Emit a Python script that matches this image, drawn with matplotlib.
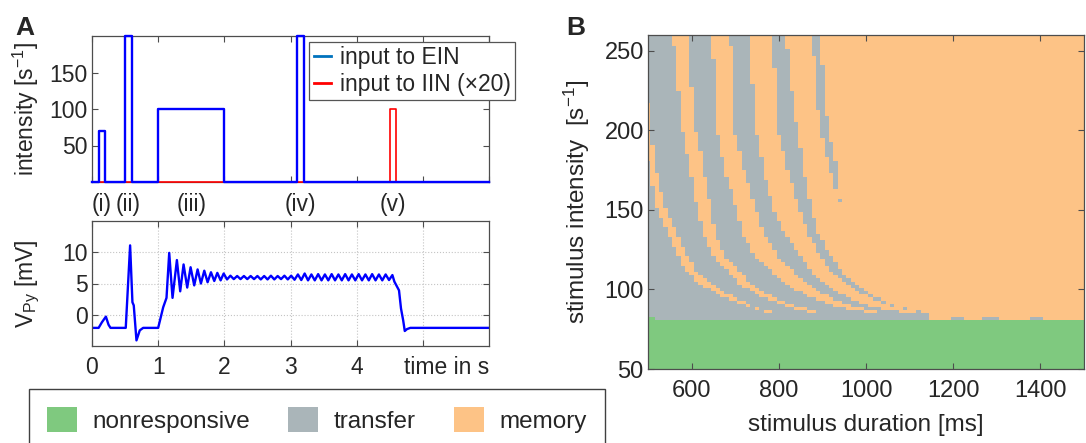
import matplotlib

matplotlib.use("Agg")

import matplotlib.pyplot as plt
import numpy as np
from matplotlib.colors import ListedColormap
from matplotlib.lines import Line2D
from matplotlib.patches import Patch
from matplotlib.transforms import blended_transform_factory

plt.rcParams["font.family"] = ["Liberation Sans", "DejaVu Sans"]
plt.rcParams["mathtext.default"] = "regular"

TEXT = "#262626"
EDGE = "#4d4d4d"
GREEN = "#7FC97F"
GRAY = "#AAB5B9"
ORANGE = "#FDC386"

# panel A, top: stimulus pulses
ein_start = [0.1, 0.5, 1.0, 3.1]
ein_end = [0.2, 0.6, 2.0, 3.2]
ein_height = [70, 200, 100, 200]
iin_start = [4.5]
iin_end = [4.6]
iin_height = [100]  # already scaled x20
pulse_names = ["(i)", "(ii)", "(iii)", "(iv)", "(v)"]

# panel A, bottom: pyramidal membrane potential
v_time = [
    0.00, 0.10, 0.15, 0.21, 0.25, 0.28, 0.51, 0.576, 0.611, 0.631, 0.672, 0.722, 0.773, 1.00,
    1.076, 1.126, 1.167, 1.217, 1.283, 1.333, 1.384, 1.439, 1.490, 1.545, 1.596, 1.646,
    1.697, 1.747, 1.798, 1.848, 1.894, 1.944, 1.990,
    2.041, 2.092, 2.143, 2.194, 2.245, 2.296, 2.347, 2.398, 2.449, 2.500,
    2.551, 2.602, 2.653, 2.704, 2.755, 2.806, 2.857, 2.908, 2.959, 3.010,
    3.061, 3.112, 3.163, 3.214, 3.265, 3.316, 3.367, 3.418, 3.469, 3.520,
    3.571, 3.622, 3.673, 3.724, 3.775, 3.826, 3.877, 3.928, 3.979, 4.030,
    4.081, 4.132, 4.183, 4.234, 4.285, 4.336, 4.387, 4.438, 4.489, 4.540,
    4.570, 4.600, 4.640, 4.670, 4.703, 4.727, 4.760, 4.810, 6.00,
]
v_mv = [
    -2.1, -2.1, -1.2, -0.3, -1.6, -2.1, -2.1, 11.1, 2.0, 1.5, -4.1, -2.5, -2.1, -2.1,
    1.2, 2.7, 9.9, 2.7, 8.75, 3.75, 8.05, 4.35, 7.6, 4.7, 7.25, 5.0,
    7.05, 5.2, 6.8, 5.4, 6.7, 5.5, 6.6,
    5.65, 6.25, 5.7, 6.2, 5.7, 6.2, 5.7, 6.2, 5.7, 6.2,
    5.65, 6.2, 5.65, 6.25, 5.65, 6.2, 5.7, 6.25, 5.65, 6.25,
    5.6, 6.45, 5.55, 6.6, 5.5, 6.45, 5.5, 6.5, 5.5, 6.45,
    5.5, 6.5, 5.5, 6.45, 5.5, 6.5, 5.5, 6.45, 5.5, 6.5,
    5.5, 6.45, 5.5, 6.5, 5.5, 6.45, 5.5, 6.45, 5.55, 6.35,
    5.3, 4.7, 3.9, 1.0, -0.9, -2.6, -2.3, -2.1, -2.1,
]

# panel B: phase diagram, band edges (duration in ms at each intensity knot)
intensity_knots = [84, 86, 88, 90, 93, 97, 103, 110, 120, 135, 153, 175, 200, 230, 260]
memory0_left = [800, 770, 745, 722, 698, 660, 622, 593, 571, 548, 517, 504, 488, 470, 450]
memory0_right = [800, 790, 760, 740, 716, 682, 645, 613, 592, 567, 536, 518, 506, 496, 480]
memory1_left = [890, 865, 840, 815, 785, 750, 712, 690, 652, 626, 612, 597, 580, 568, 558]
memory1_right = [890, 885, 862, 840, 808, 775, 740, 716, 680, 655, 642, 628, 610, 599, 591]
memory2_left = [1040, 1000, 960, 928, 893, 858, 818, 790, 748, 717, 700, 676, 658, 652, 648]
memory2_right = [1040, 1030, 995, 965, 935, 905, 866, 838, 800, 765, 745, 720, 698, 694, 689]
memory3_left = [1100, 1075, 1035, 1005, 975, 945, 905, 880, 852, 815, 785, 765, 748, 740, 731]
memory3_right = [1150, 1120, 1085, 1058, 1025, 995, 960, 925, 897, 868, 845, 820, 798, 792, 785]
memory4_left = [1150, 1130, 1097, 1070, 1040, 1010, 985, 950, 922, 890, 872, 858, 843, 828, 817]
memory4_right = [940, 940, 940, 940, 940, 940, 940, 940, 940, 940, 940, 918, 895, 884, 877]
memory5_left = [940, 940, 940, 940, 940, 940, 940, 940, 940, 940, 940, 936, 914, 902, 897]

# gray "floor" just above the nonresponsive region: start, end (ms) and top intensity
floor_start = [500, 1195, 1270, 1380]
floor_end = [1140, 1225, 1305, 1400]
floor_top = [85, 83, 83, 83]
green_top = 81
green_bump = (500, 515, 83)
gray_spot_duration = [940]
gray_spot_intensity = [156]

legend_labels = ["nonresponsive", "transfer", "memory"]


def pulse_trace(starts, ends, heights, t_max=6.0):
    t, y = [0.0], [0.0]
    for s, e, h in zip(starts, ends, heights):
        t += [s, s, e, e]
        y += [0, h, h, 0]
    t.append(t_max)
    y.append(0)
    return t, y


def style_axes(ax, size):
    for spine in ax.spines.values():
        spine.set_color(EDGE)
        spine.set_linewidth(0.9)
    ax.tick_params(direction="in", length=4, width=0.8, color=EDGE,
                   labelcolor=TEXT, labelsize=size, top=True, right=True)


W, H = 1086, 443


def px_box(left, top, right, bottom):
    return [left / W, 1 - bottom / H, (right - left) / W, (bottom - top) / H]


fig = plt.figure(figsize=(W / 100, H / 100), dpi=100)

# ---- A, top: input intensity
ax_in = fig.add_axes(px_box(92, 36, 489, 182))
t_iin, y_iin = pulse_trace(iin_start, iin_end, iin_height)
t_ein, y_ein = pulse_trace(ein_start, ein_end, ein_height)
ax_in.plot(t_iin, y_iin, color="red", lw=1.2, clip_on=False, zorder=3)
ax_in.plot(t_ein, y_ein, color="blue", lw=1.7, clip_on=False, zorder=4)
ax_in.set_xlim(0, 6)
ax_in.set_ylim(0, 200)
ax_in.set_yticks([50, 100, 150])
ax_in.set_xticks(range(0, 7))
style_axes(ax_in, 16.5)
ax_in.tick_params(axis="x", labelbottom=False)
ax_in.tick_params(axis="y", pad=3)
ax_in.set_ylabel("intensity [s$^{-1}$]", fontsize=16.5, color=TEXT)
ax_in.yaxis.set_label_coords(-0.128, 0.5)

handles = [Line2D([], [], color="#0072BD", lw=2), Line2D([], [], color="red", lw=2)]
leg = ax_in.legend(handles, ["input to EIN", "input to IIN (×20)"],
                   loc="upper left", bbox_to_anchor=(309 / W, 1 - 41.7 / H),
                   bbox_transform=fig.transFigure, fontsize=16.5, frameon=True,
                   fancybox=False, framealpha=1, edgecolor="#555555",
                   handlelength=0.75, handletextpad=0.4, borderpad=0.2,
                   labelspacing=0.15, borderaxespad=0)
leg.get_frame().set_linewidth(0.9)
for txt in leg.get_texts():
    txt.set_color(TEXT)

label_tf = blended_transform_factory(ax_in.transData, fig.transFigure)
for name, s, e in zip(pulse_names, ein_start + iin_start, ein_end + iin_end):
    ax_in.text((s + e) / 2, 1 - 204 / H, name, transform=label_tf,
               ha="center", va="center", fontsize=16.5, color=TEXT)

# ---- A, bottom: membrane potential
ax_v = fig.add_axes(px_box(92, 221, 489, 346))
ax_v.plot(v_time, v_mv, color="blue", lw=1.7)
ax_v.set_xlim(0, 6)
ax_v.set_ylim(-5, 15)
ax_v.set_xticks(range(0, 6))
ax_v.set_xticklabels(["0", "1", "2", "3", "4", ""])
ax_v.set_yticks([0, 5, 10])
ax_v.grid(True, color="#c4c4c4", linestyle=":", linewidth=0.8)
style_axes(ax_v, 16.5)
ax_v.tick_params(axis="x", pad=7.5)
ax_v.tick_params(axis="y", pad=3)
ax_v.annotate("time in s", xy=(1, 0), xycoords="axes fraction", xytext=(0, -7.5),
              textcoords="offset points", ha="right", va="top", fontsize=16.5, color=TEXT)
ax_v.set_ylabel("V$_{Py}$ [mV]", fontsize=16.5, color=TEXT)
ax_v.yaxis.set_label_coords(-0.125, 0.5)

# ---- B: phase diagram
duration = np.arange(500, 1501, 10)
intensity = np.arange(50, 261, 2)
D, I = np.meshgrid(duration, intensity)
boundaries = [memory0_left, memory0_right, memory1_left, memory1_right,
              memory2_left, memory2_right, memory3_left, memory3_right,
              memory4_left, memory4_right, memory5_left]
crossings = np.zeros(D.shape, dtype=int)
for b in boundaries:
    edge = np.interp(intensity, intensity_knots, b)
    crossings += D >= edge[:, None]
state = np.where(crossings % 2 == 1, 2, 1)
for s, e, top in zip(floor_start, floor_end, floor_top):
    state[(D >= s) & (D <= e) & (I < top)] = 1
for d, i in zip(gray_spot_duration, gray_spot_intensity):
    state[(D == d) & (I == i)] = 1
state[I < green_top] = 0
state[(D >= green_bump[0]) & (D <= green_bump[1]) & (I < green_bump[2])] = 0

ax_map = fig.add_axes(px_box(648, 35, 1084, 369))
d_edges = np.append(duration - 5, duration[-1] + 5)
i_edges = np.append(intensity - 1, intensity[-1] + 1)
ax_map.pcolormesh(d_edges, i_edges, state, cmap=ListedColormap([GREEN, GRAY, ORANGE]),
                  vmin=-0.5, vmax=2.5, shading="flat", rasterized=True)
ax_map.set_xlim(500, 1500)
ax_map.set_ylim(50, 260)
ax_map.set_xticks([600, 800, 1000, 1200, 1400])
ax_map.set_yticks([50, 100, 150, 200, 250])
style_axes(ax_map, 17)
ax_map.tick_params(axis="x", pad=8)
ax_map.tick_params(axis="y", pad=3)
ax_map.set_xlabel("stimulus duration [ms]", fontsize=17.5, color=TEXT)
ax_map.xaxis.set_label_coords(0.5, -0.135)
ax_map.set_ylabel("stimulus intensity  [s$^{-1}$]", fontsize=17.5, color=TEXT)
ax_map.yaxis.set_label_coords(-0.128, 0.5)

# panel letters
fig.text(15 / W, 1 - 35 / H, "A", fontsize=19, fontweight="bold", color=TEXT, va="baseline")
fig.text(566 / W, 1 - 35 / H, "B", fontsize=19, fontweight="bold", color=TEXT, va="baseline")

# state legend at the bottom
patches = [Patch(facecolor=c, edgecolor="none") for c in (GREEN, GRAY, ORANGE)]
leg2 = fig.legend(patches, legend_labels, loc="upper left",
                  bbox_to_anchor=(29.3 / W, 1 - 389.3 / H), ncol=3, fontsize=17.5,
                  frameon=True, fancybox=False, framealpha=1, edgecolor="#404040",
                  handlelength=1.23, handleheight=1.23, handletextpad=0.66,
                  columnspacing=1.55, borderpad=0.72, borderaxespad=0)
leg2.get_frame().set_linewidth(1.0)
for txt in leg2.get_texts():
    txt.set_color(TEXT)

fig.savefig("out.png", dpi=100)
plt.close(fig)
